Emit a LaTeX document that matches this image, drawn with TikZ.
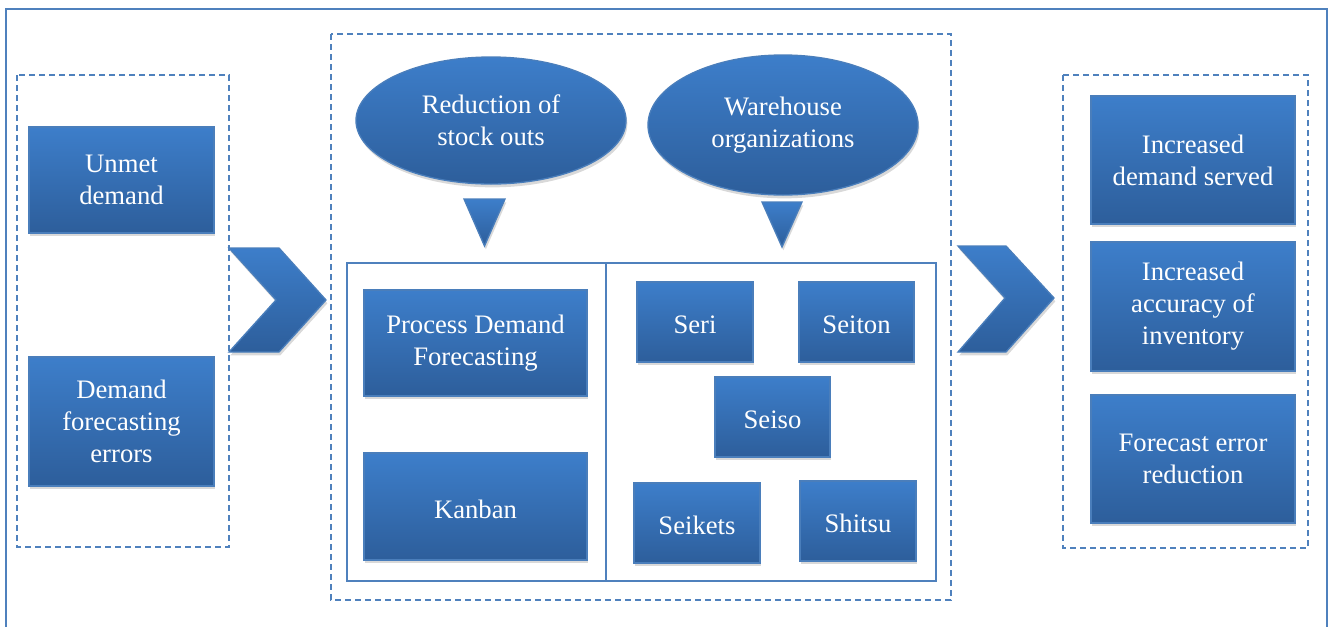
\documentclass[tikz,border=0pt]{standalone}
\usepackage{fontspec}
\setmainfont{Liberation Serif}
\usetikzlibrary{shapes.geometric,shadows}

\definecolor{boxtop}{RGB}{61,126,202}
\definecolor{boxbot}{RGB}{45,94,155}
\definecolor{boxline}{RGB}{74,126,187}
\definecolor{frameblue}{RGB}{79,129,189}

\tikzset{every picture/.style={line width=0.75pt}}
\tikzset{
  bluefill/.style={top color=boxtop, bottom color=boxbot, draw=boxline, line width=1pt,
    drop shadow={shadow xshift=1pt, shadow yshift=-2.5pt, opacity=0.3}},
  bluebox/.style 2 args={bluefill, rectangle, minimum width=#1*0.75pt, minimum height=#2*0.75pt,
    inner sep=0pt, align=center, text=white, font=\fontsize{20}{24}\selectfont,
    execute at begin node=\rule{0pt}{18pt}},
  blueoval/.style 2 args={bluebox={#1}{#2}, ellipse},
  groupbox/.style={draw=frameblue, line width=1.1pt, dash pattern=on 4.5pt off 3pt},
  panel/.style={draw=frameblue, line width=1.1pt}
}

\begin{document}
\begin{tikzpicture}[x=0.75pt,y=0.75pt,yscale=-1,xscale=1]
\useasboundingbox (0,0) rectangle (1329,626);

%Outer frame (bottom edge runs off the page)
\draw [frameblue, line width=1.5pt] (6,640) -- (6,9) -- (1327,9) -- (1327,640) ;

%Dashed groups
\draw [groupbox] (17,75) rectangle (229,547) ;
\draw [groupbox] (331,34) rectangle (951,600) ;
\draw [groupbox] (1063,75) rectangle (1308,548) ;

%Inner panel with divider
\draw [panel] (347,263) rectangle (936,581) ;
\draw [panel] (606,263) -- (606,581) ;

%Chevrons
\path [bluefill] (229,248) -- (279,248) -- (326,300) -- (279,352) -- (229,352) -- (276,300) -- cycle ;
\path [bluefill] (958,246) -- (1006,246) -- (1054,298) -- (1006,352) -- (958,352) -- (1005,298) -- cycle ;

%Down triangles
\path [bluefill] (464,199) -- (505,199) -- (484.5,246) -- cycle ;
\path [bluefill] (762,202) -- (802,202) -- (782,247) -- cycle ;

% Left column
\node [bluebox={185}{106}] (unmet) at (121.5,180) {Unmet\\demand};
\node [bluebox={185}{129}] (fcerr) at (121.5,421.5) {Demand\\forecasting\\errors};

% Ovals
\node [blueoval={270}{127}] (redstock) at (491,120.5) {Reduction of\\stock outs};
\node [blueoval={270}{140}] (warehouse) at (783,125) {Warehouse\\organizations};

% Inner panel boxes
\node [bluebox={223}{106}] (pdf) at (475.5,343) {Process Demand\\Forecasting};
\node [bluebox={223}{107}] (kanban) at (475.5,506.5) {Kanban};
\node [bluebox={116}{80}] (seri) at (695,322) {Seri};
\node [bluebox={115}{80}] (seiton) at (856.5,322) {Seiton};
\node [bluebox={115}{80}] (seiso) at (772.5,417) {Seiso};
\node [bluebox={126}{80}] (seikets) at (697,523) {Seikets};
\node [bluebox={116}{80}] (shitsu) at (858,521) {Shitsu};

% Right column
\node [bluebox={204}{128}] (incdem) at (1193,160) {Increased\\demand served};
\node [bluebox={204}{129}] (incacc) at (1193,306.5) {Increased\\accuracy of\\inventory};
\node [bluebox={204}{128}] (fcred) at (1193,459) {Forecast error\\reduction};

\end{tikzpicture}
\end{document}
